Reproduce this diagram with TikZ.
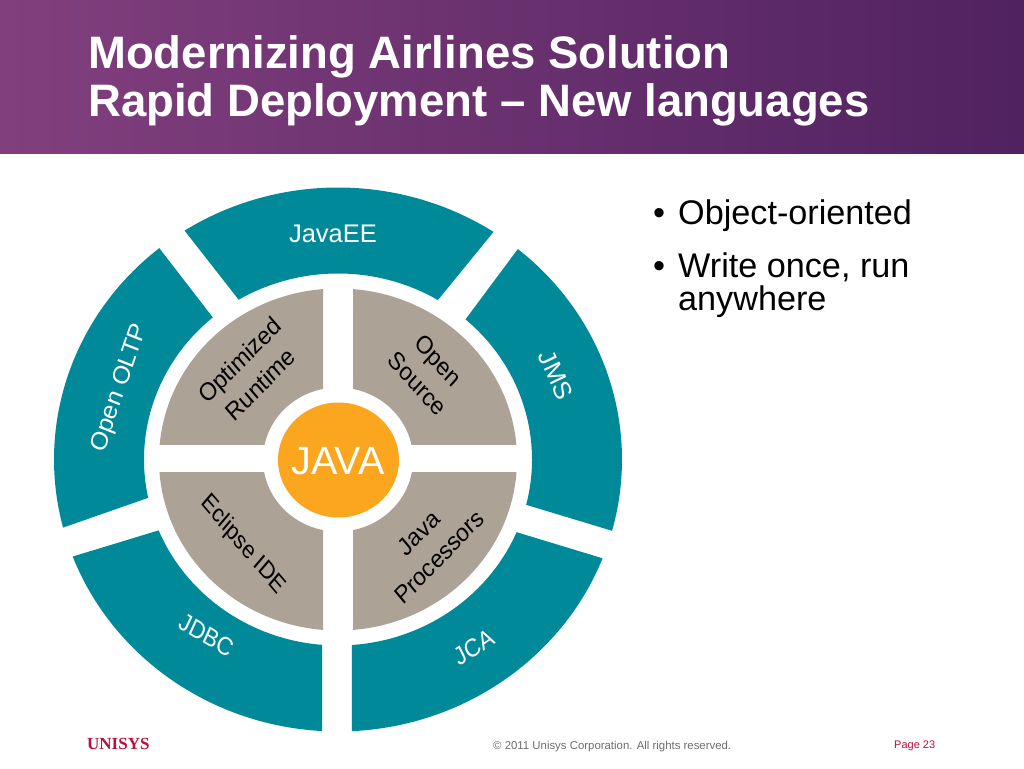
\documentclass[tikz,border=0pt]{standalone}
\usepackage{fontspec}
\setmainfont{Liberation Sans}
\newfontfamily\logofont{Liberation Serif}
\definecolor{tealseg}{HTML}{008A99}
\definecolor{greyseg}{HTML}{ADA296}
\definecolor{orangec}{HTML}{FBA61E}
\definecolor{headL}{HTML}{823F7E}
\definecolor{headR}{HTML}{50225F}
\definecolor{footgrey}{HTML}{6E6E6E}
\definecolor{logored}{HTML}{B5123E}
\tikzset{
  ringlabel/.style={text=white,inner sep=0pt,align=center,font=\fontsize{25.5}{28}\selectfont},
  ringrot/.style={text=white,inner sep=0pt,align=center,transform shape,font=\fontsize{25.5}{28}\selectfont},
  greylabel/.style={text=black,inner sep=0pt,align=center,transform shape,font=\fontsize{25}{33}\selectfont},
  bullettext/.style={text=black,inner sep=0pt,anchor=base west,align=left,font=\fontsize{34.2}{34}\selectfont},
}
% outer start, outer end, inner start, inner end
\newcommand{\ringseg}[4]{%
  \fill[tealseg] ({338+284*cos(#1)},{308.5+272*sin(#1)})
    arc[start angle=#1,end angle=#2,x radius=284pt,y radius=272pt]
    -- ({338+194*cos(#3)},{308.5+186*sin(#3)})
    arc[start angle=#3,end angle=#4,x radius=194pt,y radius=186pt] -- cycle;}
\newcommand{\quadseg}[4]{%
  \begin{scope}
    \clip (#1,#2) rectangle (#3,#4);
    \fill[greyseg,even odd rule] (338,308.5) ellipse [x radius=179pt,y radius=171pt]
      (338,308.5) ellipse [x radius=75pt,y radius=72pt];
  \end{scope}}
\begin{document}
\begin{tikzpicture}[x=1pt,y=1pt]
\useasboundingbox (0,0) rectangle (1024,768);
\fill[white] (0,0) rectangle (1024,768);
\shade[left color=headL,right color=headR] (0,614) rectangle (1024,768);
\node[text=white,inner sep=0pt,anchor=north west,align=left,font=\fontsize{45.5}{48.5}\selectfont\bfseries] (title) at (88,733)
  {Modernizing Airlines Solution\\Rapid Deployment – New languages};

\ringseg{122.7}{56.8}{59.0}{120.8}
\ringseg{194.5}{129}{130.2}{191.9}
\ringseg{50.7}{-15.2}{-14.1}{48.9}
\ringseg{-21.3}{-87.2}{-85.9}{-23}
\ringseg{200.9}{266.8}{265.3}{202.4}

\quadseg{150}{323}{323}{490}
\quadseg{353}{323}{525}{490}
\quadseg{150}{295}{323}{130}
\quadseg{353}{295}{525}{130}

\fill[orangec] (338.5,308) ellipse [x radius=60.5pt,y radius=57.5pt];
\node[text=white,inner sep=0pt,font=\fontsize{39.5}{40}\selectfont] (java) at (338,307) {JAVA};

\node[ringlabel] (javaee) at (333,534) {JavaEE};
\node[ringrot,xscale=.93,rotate=70] (oltp) at (120,380) {Open OLTP};
\node[ringrot,xscale=.97,rotate=-65] (jms) at (556,393) {JMS};
\node[ringrot,xscale=.87,rotate=30] (jca) at (474,121) {JCA};
\node[ringrot,xscale=.87,rotate=-28] (jdbc) at (207,133) {JDBC};

\node[greylabel,xscale=.92,rotate=43] (opt) at (250,396) {Optimized\\Runtime};
\node[greylabel,xscale=.9,rotate=-45] (src) at (428,396) {Open\\Source};
\node[greylabel,xscale=.85,rotate=-45] (ecl) at (243,223) {Eclipse IDE};
\node[greylabel,xscale=.9,rotate=43] (proc) at (429,223) {Java\\Processors};

\node[bullettext] (b1) at (653,543) {•};
\node[bullettext] (t1) at (678,543) {Object-oriented};
\node[bullettext] (b2) at (653,490) {•};
\node[bullettext] (t2) at (678,490) {Write once, run};
\node[bullettext] (t3) at (678,457) {anywhere};

\node[inner sep=0pt,anchor=base west,text=logored,font=\logofont\bfseries\fontsize{17}{17}\selectfont] (logo) at (87,19) {UNISYS};
\node[inner sep=0pt,anchor=base west,text=footgrey,font=\fontsize{11.4}{11}\selectfont] (copy) at (493,19) {© 2011 Unisys Corporation. All rights reserved.};
\node[inner sep=0pt,anchor=base west,text=logored,font=\fontsize{11}{11}\selectfont] (page) at (894,20) {Page 23};
\end{tikzpicture}
\end{document}
